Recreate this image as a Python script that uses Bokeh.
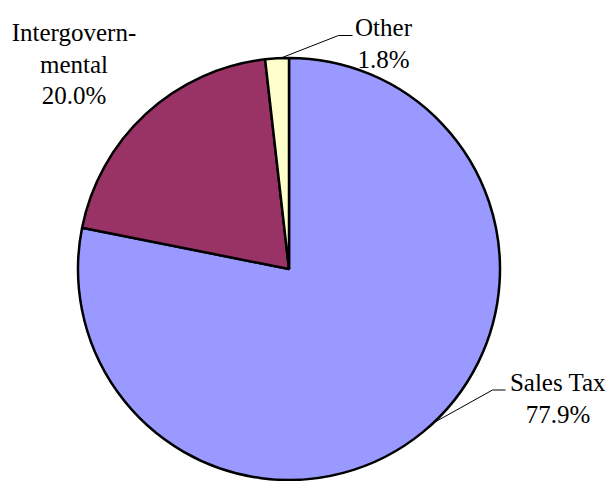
import math

from bokeh.core.properties import value
from bokeh.embed import file_html
from bokeh.models import ColumnDataSource
from bokeh.plotting import figure
from bokeh.resources import INLINE

# Revenue shares by source (percent)
categories = ["Sales Tax", "Intergovernmental", "Other"]
shares = [77.9, 20.0, 1.8]
colors = ["#9999FF", "#993366", "#FFFFCC"]
# How each category name is broken over lines in its label
name_lines = [["Sales Tax"], ["Intergovern-", "mental"], ["Other"]]

W, H = 610, 481

# Pie geometry (screen pixels, y measured from the top)
CX, CY, R = 288.5, 268.5, 211.0

# Label placement: centre x and baseline of the first line (screen pixels)
label_pos = [(557.5, 382.0), (73.5, 32.0), (383.0, 27.0)]
LINE_STEP = 31.5
# Leader lines: angle on the rim (degrees) where the leader starts,
# elbow point and end point (screen pixels); None = no leader
leaders = [(-46.9, (492.0, 389.5), (505.0, 389.5)),
           None,
           (92.3, (338.0, 35.0), (352.0, 35.0))]


def fy(y_px):
    return H - y_px


total = sum(shares)
starts, ends = [], []
angle = math.pi / 2
for s in shares:
    starts.append(angle)
    angle -= s / total * 2 * math.pi
    ends.append(angle)

pie = ColumnDataSource(dict(
    x=[CX] * len(shares), y=[fy(CY)] * len(shares),
    start=starts, end=ends, color=colors, name=categories,
))

p = figure(width=W, height=H, x_range=(0, W), y_range=(0, H),
           output_backend="svg", toolbar_location=None, min_border=0,
           x_axis_location=None, y_axis_location=None)
p.grid.visible = False
p.outline_line_color = None
p.background_fill_color = "white"
p.border_fill_color = "white"

p.wedge(x="x", y="y", radius=R, start_angle="start", end_angle="end",
        direction="clock", fill_color="color", line_color="black",
        line_width=2.5, source=pie)

# Leader lines
for lead in leaders:
    if lead is None:
        continue
    ang, elbow, end = lead
    a = math.radians(ang)
    x0 = CX + R * math.cos(a)
    y0 = fy(CY) + R * math.sin(a)
    p.line(x=[x0, elbow[0], end[0]], y=[y0, fy(elbow[1]), fy(end[1])],
           line_color="black", line_width=1)

# Labels: name lines followed by the percentage
tx, ty, tt = [], [], []
for lines, share, (lx, ly) in zip(name_lines, shares, label_pos):
    for i, txt in enumerate(lines + [f"{share:.1f}%"]):
        tx.append(lx)
        ty.append(fy(ly + i * LINE_STEP))
        tt.append(txt)

p.text(x=tx, y=ty, text=tt, text_align="center", text_baseline="alphabetic",
       text_font=value("Liberation Serif"), text_font_size="25px",
       text_color="black")

open("out.html", "w").write(file_html(p, INLINE))
